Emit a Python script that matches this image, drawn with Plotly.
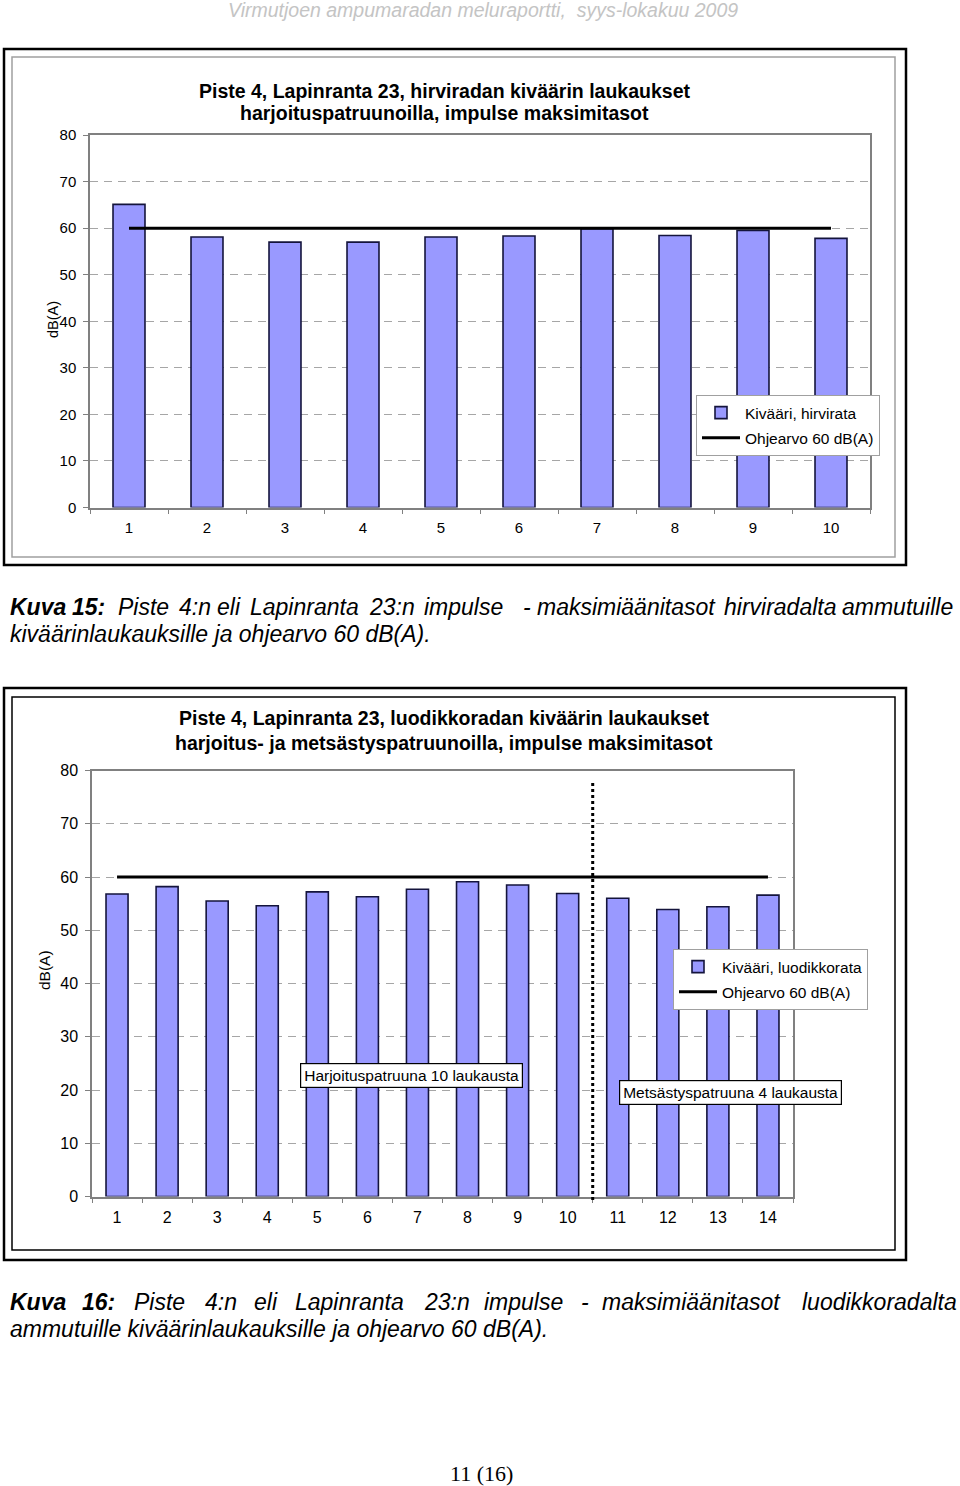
import plotly.graph_objects as go

W, H = 960, 1486

# ---------------- data ----------------
cats1 = ["1", "2", "3", "4", "5", "6", "7", "8", "9", "10"]
levels1 = [65.1, 58.1, 57.0, 57.0, 58.1, 58.3, 59.9, 58.4, 59.5, 57.8]

cats2 = ["1", "2", "3", "4", "5", "6", "7", "8", "9", "10", "11", "12", "13", "14"]
levels2 = [56.8, 58.2, 55.5, 54.6, 57.2, 56.3, 57.7, 59.1, 58.5, 56.9, 56.0, 53.9, 54.4, 56.6]

limit_value = 60
n_training = 10  # shots with training cartridges (chart 2), rest hunting cartridges

yticks = [0, 10, 20, 30, 40, 50, 60, 70, 80]

title1 = ["Piste 4, Lapinranta 23, hirviradan kiväärin laukaukset",
          "harjoituspatruunoilla, impulse maksimitasot"]
title2 = ["Piste 4, Lapinranta 23, luodikkoradan kiväärin laukaukset",
          "harjoitus- ja metsästyspatruunoilla, impulse maksimitasot"]
series1 = "Kivääri, hirvirata"
series2 = "Kivääri, luodikkorata"
limit_name = "Ohjearvo 60 dB(A)"
note_train = "Harjoituspatruuna 10 laukausta"
note_hunt = "Metsästyspatruuna 4 laukausta"
header = "Virmutjoen ampumaradan meluraportti,  syys-lokakuu 2009"
footer = "11 (16)"


def px(x):
    return x / W


def py(y):
    return 1 - y / H


BAR_FILL = "#9999FF"
BAR_LINE = "#14143c"
AXIS_GRAY = "#808080"
GRID_GRAY = "#a6a6a6"
FONT = "Liberation Sans, Arial, sans-serif"

fig = go.Figure()

# chart 1
fig.add_trace(go.Bar(x=cats1, y=levels1, name=series1, width=0.41,
                     marker=dict(color=BAR_FILL, line=dict(color=BAR_LINE, width=1.6)),
                     xaxis="x", yaxis="y", legend="legend", legendgroup="a"))
fig.add_trace(go.Scatter(x=cats1, y=[limit_value] * len(cats1), name=limit_name,
                         mode="lines", line=dict(color="black", width=3),
                         xaxis="x", yaxis="y", legend="legend", legendgroup="b"))
# chart 2
fig.add_trace(go.Bar(x=cats2, y=levels2, name=series2, width=0.44,
                     marker=dict(color=BAR_FILL, line=dict(color=BAR_LINE, width=1.6)),
                     xaxis="x2", yaxis="y2", legend="legend2", legendgroup="c"))
fig.add_trace(go.Scatter(x=cats2, y=[limit_value] * len(cats2), name=limit_name,
                         mode="lines", line=dict(color="black", width=3),
                         xaxis="x2", yaxis="y2", legend="legend2", legendgroup="d"))


def xax(dom, anchor, n, fs):
    return dict(domain=dom, anchor=anchor, type="category", range=[-0.5, n - 0.5],
                showline=True, linecolor=AXIS_GRAY, linewidth=1.5, mirror=True,
                ticks="outside", tickson="boundaries", ticklen=5, tickcolor=AXIS_GRAY,
                tickwidth=1, tickfont=dict(size=fs, color="black", family=FONT),
                showgrid=False, ticklabelstandoff=6, fixedrange=True, automargin=False)


def yax(dom, anchor, fs):
    return dict(domain=dom, anchor=anchor, range=[0, 80], tickvals=yticks,
                showline=True, linecolor=AXIS_GRAY, linewidth=1.5, mirror=True,
                ticks="outside", ticklen=5, tickcolor=AXIS_GRAY, tickwidth=1,
                tickfont=dict(size=fs, color="black", family=FONT),
                showgrid=True, gridcolor=GRID_GRAY, gridwidth=1, griddash="8px,6px",
                zeroline=False, ticklabelstandoff=4, fixedrange=True, automargin=False)


shapes = [
    # chart 1 frames
    dict(type="rect", xref="paper", yref="paper", x0=px(4), x1=px(906), y0=py(565), y1=py(49),
         line=dict(color="black", width=2.5), layer="below"),
    dict(type="rect", xref="paper", yref="paper", x0=px(12), x1=px(895), y0=py(557), y1=py(57),
         line=dict(color="#a0a0a0", width=1.5), layer="below"),
    # chart 2 frames
    dict(type="rect", xref="paper", yref="paper", x0=px(4), x1=px(906), y0=py(1260), y1=py(688),
         line=dict(color="black", width=2.5), layer="below"),
    dict(type="rect", xref="paper", yref="paper", x0=px(12), x1=px(895), y0=py(1250), y1=py(697),
         line=dict(color="black", width=1.5), layer="below"),
    # divider between training and hunting cartridges
    dict(type="line", xref="x2", yref="paper", x0=n_training - 0.5, x1=n_training - 0.5,
         y0=py(1200), y1=py(780), line=dict(color="black", width=3, dash="dot")),
]

annotations = []


def text(s, x, y, size, xanchor="center", yanchor="middle", color="black", family=FONT,
         weight="normal", style="normal", angle=0, **kw):
    annotations.append(dict(text=s, x=px(x), y=py(y), xref="paper", yref="paper",
                            xanchor=xanchor, yanchor=yanchor, showarrow=False,
                            textangle=angle,
                            font=dict(size=size, color=color, family=family,
                                      weight=weight, style=style), **kw))


# header & footer
text(header, 483, 10, 19.5, color="#c4c4c4", style="italic")
text(footer, 481, 1473, 22, family="Liberation Serif, Times New Roman, serif")

# chart titles
text(title1[0], 444, 91, 19.5, weight="bold")
text(title1[1], 444, 113, 19.5, weight="bold")
text(title2[0], 444, 718, 19.5, weight="bold")
text(title2[1], 444, 743, 19.5, weight="bold")

# y axis titles
text("dB(A)", 53, 320, 14.5, angle=-90)
text("dB(A)", 45, 970, 15.5, angle=-90)

# notes in chart 2
text(note_train, 411, 1075, 15.5, bgcolor="white", bordercolor="black", borderwidth=1.2,
     borderpad=3)
text(note_hunt, 730, 1092, 15.5, bgcolor="white", bordercolor="black", borderwidth=1.2,
     borderpad=3)

# captions (justified lines placed word by word)
cap15_words = [("Kuva", 8, True), ("15:", 70, True), ("Piste", 116, False), ("4:n", 177, False),
               ("eli", 215, False), ("Lapinranta", 248, False), ("23:n", 367, False),
               ("impulse", 422, False), ("-", 521, False), ("maksimiäänitasot", 535, False),
               ("hirviradalta", 722, False), ("ammutuille", 840, False)]
for w, x, b in cap15_words:
    text(w, x, 607, 23, xanchor="left", style="italic", weight="bold" if b else "normal")
text("kiväärinlaukauksille ja ohjearvo 60 dB(A).", 8, 634, 23, xanchor="left", style="italic")

cap16_words = [("Kuva", 8, True), ("16:", 80, True), ("Piste", 132, False), ("4:n", 203, False),
               ("eli", 252, False), ("Lapinranta", 293, False), ("23:n", 422, False),
               ("impulse", 482, False), ("-", 579, False), ("maksimiäänitasot", 600, False),
               ("luodikkoradalta", 800, False)]
for w, x, b in cap16_words:
    text(w, x, 1302, 23, xanchor="left", style="italic", weight="bold" if b else "normal")
text("ammutuille kiväärinlaukauksille ja ohjearvo 60 dB(A).", 8, 1329, 23, xanchor="left",
     style="italic")

legend_common = dict(xref="paper", yref="paper", xanchor="left", yanchor="top",
                     bgcolor="white", bordercolor="#a0a0a0", borderwidth=1,
                     font=dict(size=15.5, color="black", family=FONT),
                     itemwidth=38, tracegroupgap=2, itemclick=False, itemdoubleclick=False)

fig.update_layout(
    width=W, height=H, autosize=False,
    margin=dict(l=0, r=0, t=0, b=0, autoexpand=False),
    paper_bgcolor="white", plot_bgcolor="white",
    font=dict(family=FONT, color="black"),
    showlegend=True,
    xaxis=xax([px(90), px(870)], "y", len(cats1), 15),
    yaxis=yax([py(507.5), py(135)], "x", 15),
    xaxis2=xax([px(92), px(793)], "y2", len(cats2), 16),
    yaxis2=yax([py(1196.5), py(770.5)], "x2", 16),
    legend=dict(x=px(696), y=py(395), **legend_common),
    legend2=dict(x=px(673), y=py(949), **legend_common),
    shapes=shapes,
    annotations=annotations,
)

fig.write_html(
    "out.html",
    config={"displayModeBar": False},
    post_script="document.body.style.margin='0';document.body.style.padding='0';"
                "document.documentElement.style.overflow='hidden';",
)
